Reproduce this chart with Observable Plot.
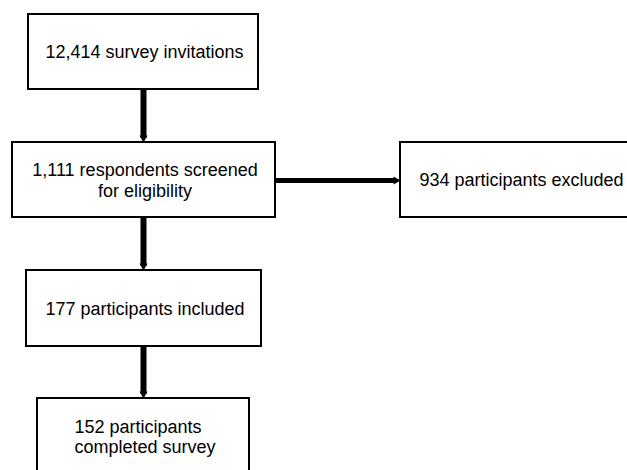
<!DOCTYPE html>
<html>
<head>
<meta charset="utf-8">
<script src="https://cdn.jsdelivr.net/npm/d3@7"></script>
<script src="https://cdn.jsdelivr.net/npm/@observablehq/plot@0.6"></script>
<style>
  html, body { margin: 0; padding: 0; background: #fff; overflow: hidden; }
  #chart svg { display: block; }
</style>
</head>
<body>
<div id="chart"></div>
<script>
// Flowchart content
const stepLabels = [
  "12,414 survey invitations",
  "1,111 respondents screened\nfor eligibility",
  "177 participants included",
  "152 participants\ncompleted survey",
  "934 participants excluded"
];
const stepCounts = [12414, 1111, 177, 152, 934];
// Flow connections (from step index -> to step index)
const flowFrom = [0, 1, 2, 1];
const flowTo   = [1, 2, 3, 4];

// Layout (pixel grid of the diagram)
const boxLeft   = [28, 12, 26, 37, 400];
const boxRight  = [258, 275, 261, 249, 640];
const boxTop    = [14, 142, 270, 398, 142];
const boxBottom = [89, 217, 346, 474, 217];

const W = 627, H = 470;
const boxes = stepLabels.map((label, i) => ({
  label, count: stepCounts[i],
  x1: boxLeft[i], x2: boxRight[i], y1: boxTop[i], y2: boxBottom[i],
  cx: (boxLeft[i] + boxRight[i]) / 2 + 1, cy: (boxTop[i] + boxBottom[i]) / 2
}));

const head = 4.6; // arrow tip offset from triangle center
const edges = flowFrom.map((f, k) => {
  const a = boxes[f], b = boxes[flowTo[k]];
  const vertical = b.y1 > a.y2;
  if (vertical) {
    const x = 143;
    return {vertical, x1: x, y1: a.y2, x2: x, y2: b.y1 - head, hx: x, hy: b.y1 - head, rot: 180, w: 6};
  } else {
    const y = 180;
    return {vertical, x1: a.x2, y1: y, x2: b.x1 - head, y2: y, hx: b.x1 - head, hy: y, rot: 90, w: 5};
  }
});

const centered = boxes.filter((d, i) => i !== 3);
const leftAligned = boxes.filter((d, i) => i === 3);

const chart = Plot.plot({
  width: W,
  height: H,
  margin: 0,
  x: {type: "identity", axis: null},
  y: {type: "identity", axis: null},
  style: {fontFamily: "'Liberation Sans', Arial, sans-serif", background: "#fff"},
  marks: [
    Plot.rect(boxes, {x1: "x1", x2: "x2", y1: "y1", y2: "y2", fill: "white", stroke: "black", strokeWidth: 2, clip: true}),
    Plot.link(edges, {x1: "x1", y1: "y1", x2: "x2", y2: "y2", stroke: "black", strokeWidth: "w"}),
    Plot.dot(edges, {x: "hx", y: "hy", symbol: "triangle", r: 3, rotate: "rot", fill: "black", stroke: null}),
    Plot.text(centered, {x: "cx", y: "cy", text: "label", fontSize: 18, lineHeight: 1.12, fill: "black", textAnchor: "middle"}),
    Plot.text(leftAligned, {x: d => d.x1 + 37, y: "cy", text: "label", fontSize: 18, lineHeight: 1.12, fill: "black", textAnchor: "start"})
  ]
});
document.getElementById("chart").appendChild(chart);
</script>
</body>
</html>
